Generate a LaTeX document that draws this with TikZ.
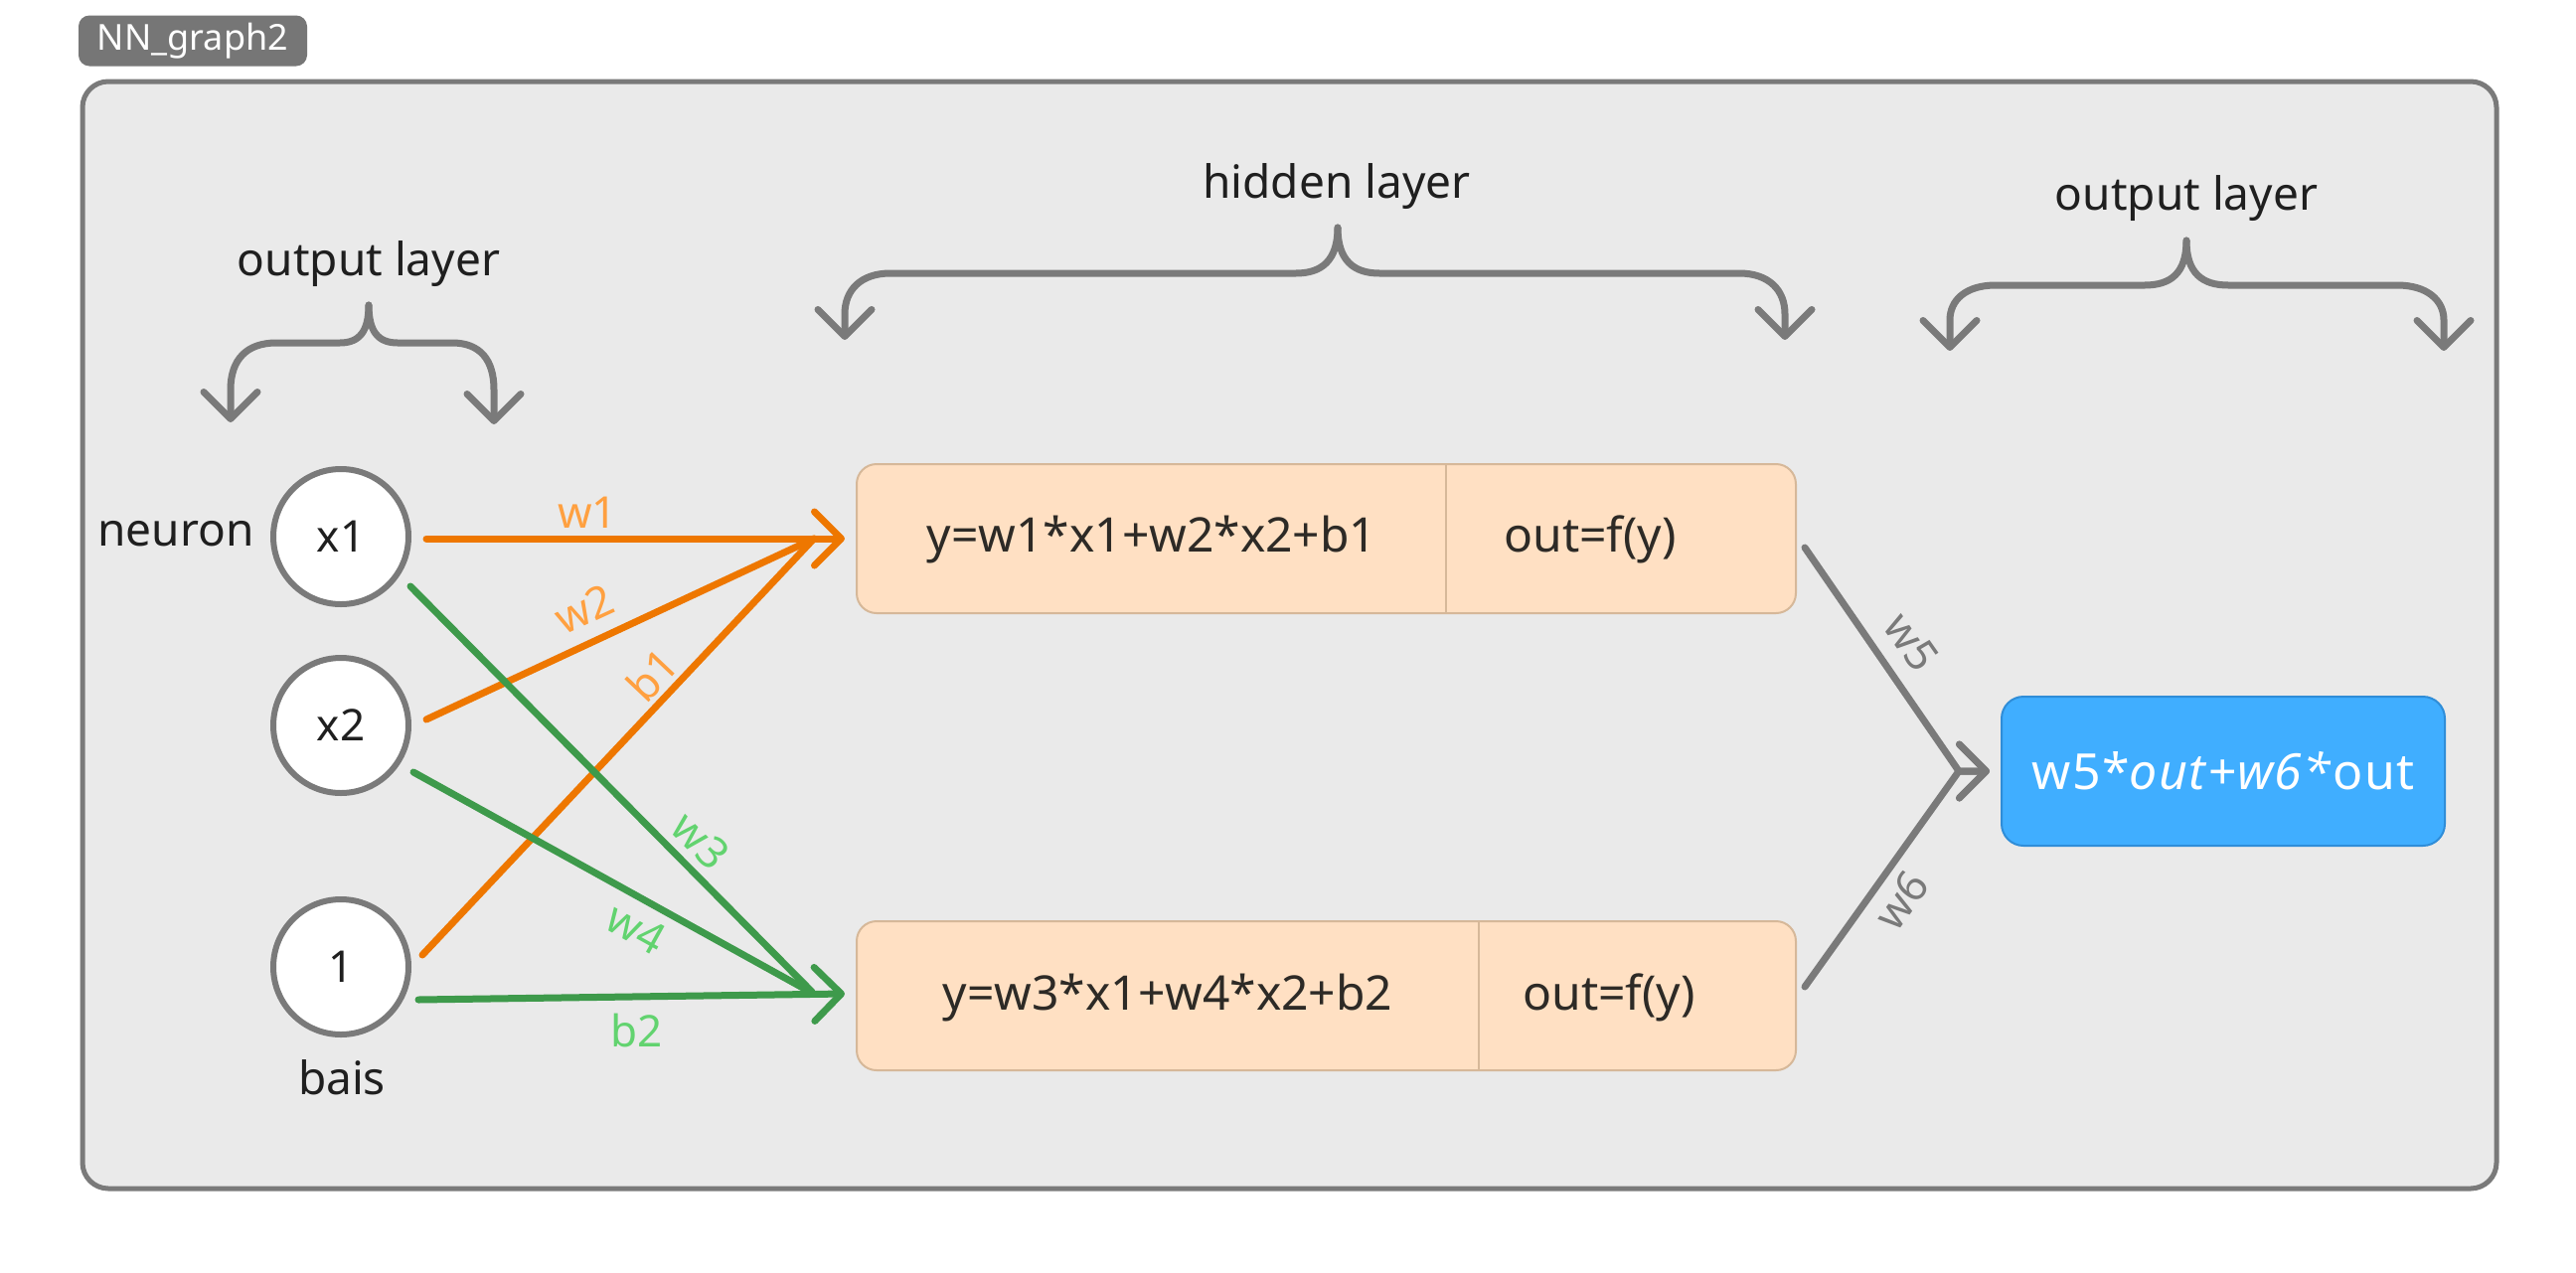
\documentclass[tikz,border=0pt]{standalone}
\usepackage{fontspec}
\setmainfont{Noto Sans}
\usetikzlibrary{arrows.meta}
\definecolor{bg}{HTML}{EAEAEA}
\definecolor{gr}{HTML}{7A7A7A}
\definecolor{tagc}{HTML}{767676}
\definecolor{orl}{HTML}{EE7700}
\definecolor{orlab}{HTML}{FFA040}
\definecolor{gnl}{HTML}{3E9A4B}
\definecolor{gnlab}{HTML}{62D36F}
\definecolor{peach}{HTML}{FFE0C3}
\definecolor{peachb}{HTML}{D6B899}
\definecolor{blu}{HTML}{40AEFF}
\definecolor{blub}{HTML}{2F8DD8}
\definecolor{txt}{HTML}{1F1F1F}
\definecolor{htc}{HTML}{2D2A26}
\newcommand\myfs[1]{\fontsize{#1}{#1}\selectfont}
\begin{document}
\begin{tikzpicture}[x=1pt,y=-1pt,
  frame/.style={draw=gr, line width=5pt, fill=bg, rounded corners=26pt, minimum width=2429pt, minimum height=1114pt, inner sep=0pt},
  tagbox/.style={fill=tagc, rounded corners=11pt, minimum width=230pt, minimum height=51pt, inner sep=0pt, text=white, font=\myfs{36}},
  neuron/.style={circle, draw=gr, line width=6pt, fill=white, minimum size=136pt, inner sep=0pt, text=txt, font=\myfs{44}},
  hidbox/.style={draw=peachb, line width=2pt, fill=peach, rounded corners=20pt, minimum width=945pt, minimum height=150pt, inner sep=0pt},
  outbox/.style={draw=blub, line width=2pt, fill=blu, rounded corners=22pt, minimum width=446pt, minimum height=150pt, inner sep=0pt, text=white, font=\myfs{50}\addfontfeatures{LetterSpace=3}},
  plain/.style={text=txt, font=\myfs{46}, inner sep=0pt},
  htxt/.style={text=htc, font=\myfs{48}, inner sep=0pt},
  lblO/.style={text=orlab, font=\myfs{44}, inner sep=0pt},
  lblG/.style={text=gnlab, font=\myfs{44}, inner sep=0pt},
  lblK/.style={text=gr, font=\myfs{44}, inner sep=0pt},
  conn/.style={line width=7pt, line cap=round, line join=round},
  tipV/.style={-{Straight Barb[length=27pt,width=54pt,round]}},
  brace/.style={draw=gr, line width=7pt, line cap=round, line join=round}
]
\useasboundingbox (0,0) rectangle (2592,1280);
\fill[white] (0,0) rectangle (2592,1280);

% frame and tag
\node[frame] (frame) at (1297.5,639) {};
\node[tagbox] (tag) at (194,41) {NN\_graph2};

% braces
\draw[brace, tipV] (371,307) .. controls (371,333) and (362,345) .. (342,345) -- (278,345) .. controls (248,345) and (232,362) .. (232,392) -- (232,425);
\draw[brace, tipV] (371,307) .. controls (371,333) and (380,345) .. (400,345) -- (455,345) .. controls (483,345) and (497,362) .. (497,392) -- (497,427);
\draw[brace, tipV] (1346,229) .. controls (1346,262) and (1330,275) .. (1304,275) -- (896,275) .. controls (866,275) and (850,292) .. (850,316) -- (850,342);
\draw[brace, tipV] (1346,229) .. controls (1346,262) and (1362,275) .. (1388,275) -- (1750,275) .. controls (1780,275) and (1796,292) .. (1796,316) -- (1796,342);
\draw[brace, tipV] (2200,242) .. controls (2200,275) and (2184,287) .. (2158,287) -- (2008,287) .. controls (1978,287) and (1962,302) .. (1962,322) -- (1962,353);
\draw[brace, tipV] (2200,242) .. controls (2200,275) and (2216,287) .. (2242,287) -- (2412,287) .. controls (2442,287) and (2459,302) .. (2459,322) -- (2459,353);

% layer titles
\node[plain] (lout1) at (371,266) {output layer};
\node[plain] (lhid) at (1345,188) {hidden layer};
\node[plain] (lout2) at (2200,200) {output layer};

% neurons
\node[neuron] (x1) at (343,540) {x1};
\node[neuron] (x2) at (343,730) {x2};
\node[neuron] (one) at (343,973) {1};
\node[plain] (lneuron) at (177,537) {neuron};
\node[plain] (lbais) at (344,1084) {bais};

% hidden boxes
\node[hidbox] (hid1) at (1334.5,542) {};
\draw[peachb, line width=2pt] ([xshift=120.5pt]hid1.north) -- ([xshift=120.5pt]hid1.south);
\node[htxt] (e1) at (1159,543) {y=w1*x1+w2*x2+b1};
\node[htxt] (f1) at (1600,543) {out=f(y)};
\node[hidbox] (hid2) at (1334.5,1002) {};
\draw[peachb, line width=2pt] ([xshift=153pt]hid2.north) -- ([xshift=153pt]hid2.south);
\node[htxt] (e2) at (1175,1004) {y=w3*x1+w4*x2+b2};
\node[htxt] (f2) at (1619,1004) {out=f(y)};

% output box
\node[outbox] (outb) at (2237,776) {w5*\textit{out+w6*}out};

% connectors
\draw[conn, orl, tipV] ([shift={(86,2)}]x1.center) -- ([xshift=-11pt]hid1.west);
\draw[conn, orl] ([shift={(86,-6)}]x2.center) -- ([xshift=-42pt]hid1.west);
\draw[conn, orl] ([shift={(82,-12)}]one.center) -- ([xshift=-42pt]hid1.west);
\draw[conn, gnl] ([shift={(70,50)}]x1.center) -- ([shift={(-44,-4)}]hid2.west);
\draw[conn, gnl] ([shift={(73,47)}]x2.center) -- ([shift={(-46,-4)}]hid2.west);
\draw[conn, gnl, tipV] ([shift={(78,33)}]one.center) -- ([shift={(-11,-2)}]hid2.west);
\draw[conn, gr, tipV] ([shift={(8,9)}]hid1.east) -- ([xshift=-42pt]outb.west) -- ([xshift=-11pt]outb.west);
\draw[conn, gr, tipV] ([shift={(8,-9)}]hid2.east) -- ([xshift=-42pt]outb.west) -- ([xshift=-11pt]outb.west);

% connector labels
\node[lblO] (lw1) at (591,516) {w1};
\node[lblO, rotate=24.7] (lw2) at (588,613) {w2};
\node[lblO, rotate=46.6] (lb1) at (656,679) {b1};
\node[lblG, rotate=-45.2] (lw3) at (705,846) {w3};
\node[lblG, rotate=-29] (lw4) at (640,934) {w4};
\node[lblG] (lb2) at (641,1037) {b2};
\node[lblK, rotate=-55] (lw5) at (1923,646) {w5};
\node[lblK, rotate=54] (lw6) at (1913,906) {w6};
\end{tikzpicture}
\end{document}
